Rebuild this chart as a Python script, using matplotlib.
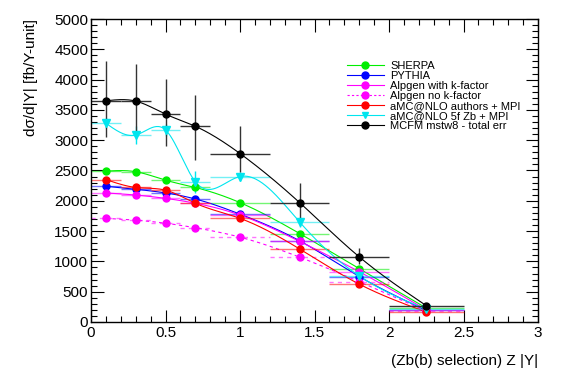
import matplotlib
matplotlib.use("Agg")
import matplotlib.pyplot as plt
import numpy as np
from matplotlib.ticker import MultipleLocator
from matplotlib.lines import Line2D

plt.rcParams['font.family'] = ['Liberation Sans', 'DejaVu Sans']

# bins in |Y|
x = [0.1, 0.3, 0.5, 0.7, 1.0, 1.4, 1.8, 2.25]
xlo = [0.1, 0.1, 0.1, 0.1, 0.2, 0.2, 0.2, 0.25]

sherpa = [2490, 2480, 2340, 2220, 1970, 1460, 880, 230]
pythia = [2240, 2190, 2130, 2030, 1780, 1340, 750, 190]
alpgen_k = [2130, 2095, 2040, 1960, 1765, 1330, 830, 200]
alpgen_nok = [1710, 1680, 1630, 1555, 1400, 1070, 665, 180]
amcnlo = [2350, 2220, 2175, 1960, 1710, 1205, 625, 165]
amc5f = [3280, 3085, 3170, 2315, 2400, 1650, 760, 210]
amc5f_err = [80, 150, 100, 180, 80, 80, 70, 40]
mcfm = [3650, 3645, 3430, 3230, 2780, 1970, 1075, 270]
mcfm_lo = [590, 600, 530, 550, 310, 310, 120, 30]
mcfm_hi = [650, 610, 580, 520, 460, 320, 150, 30]

labels = ["SHERPA", "PYTHIA", "Alpgen with k-factor", "Alpgen no k-factor",
          "aMC@NLO authors + MPI", "aMC@NLO 5f Zb + MPI", "MCFM mstw8 - total err"]


def spline(xs, ys, n=300):
    # natural cubic spline, like ROOT's "C" option
    xs = np.asarray(xs, float)
    ys = np.asarray(ys, float)
    k = len(xs)
    h = np.diff(xs)
    A = np.zeros((k, k))
    b = np.zeros(k)
    A[0, 0] = A[-1, -1] = 1
    for i in range(1, k - 1):
        A[i, i - 1] = h[i - 1]
        A[i, i] = 2 * (h[i - 1] + h[i])
        A[i, i + 1] = h[i]
        b[i] = 3 * ((ys[i + 1] - ys[i]) / h[i] - (ys[i] - ys[i - 1]) / h[i - 1])
    c = np.linalg.solve(A, b)
    xx = np.linspace(xs[0], xs[-1], n)
    idx = np.clip(np.searchsorted(xs, xx) - 1, 0, k - 2)
    dx = xx - xs[idx]
    bb = (ys[1:] - ys[:-1]) / h - h * (2 * c[:-1] + c[1:]) / 3
    dd = (c[1:] - c[:-1]) / (3 * h)
    yy = ys[idx] + bb[idx] * dx + c[idx] * dx ** 2 + dd[idx] * dx ** 3
    return xx, yy


fig = plt.figure(figsize=(5.67, 3.84), dpi=100)
ax = fig.add_axes([0.1605, 0.1615, 0.7884, 0.789])

series = [
    (sherpa, None, "#00ee00", "o", "-"),
    (pythia, None, "#0000ff", "o", "-"),
    (alpgen_k, None, "#ff00ff", "o", "-"),
    (alpgen_nok, None, "#ff00ff", "o", "--"),
    (amcnlo, None, "#ff0000", "o", "-"),
    (amc5f, amc5f_err, "#00e5ee", "v", "-"),
    (mcfm, [mcfm_lo, mcfm_hi], "black", "o", "-"),
]

handles = []
for (ys, err, col, mk, ls), lab in zip(series, labels):
    xx, yy = spline(x, ys)
    ax.plot(xx, yy, color=col, lw=0.8, ls=ls, dashes=(3, 3) if ls == "--" else (None, None))
    hcol = "#333333" if col == "black" else col
    halpha = 1.0 if col == "black" else 0.55
    eb = ax.errorbar(x, ys, xerr=xlo, fmt="none", ecolor=hcol, elinewidth=1.0, alpha=halpha)
    if ls == "--":
        for l in eb.lines[2]:
            l.set_linestyle((0, (3, 3)))
    if err is not None:
        ax.errorbar(x, ys, yerr=err, fmt="none", ecolor=hcol, elinewidth=1.0)
    ax.plot(x, ys, ls="none", marker=mk, color=col, ms=5 if mk == "o" else 5.5, zorder=5)
    handles.append(Line2D([], [], color=col, lw=0.8, ls=ls, marker=mk, ms=5,
                          dashes=(2, 2) if ls == "--" else (None, None), alpha=1.0))

ax.legend(handles, labels, loc="upper left", bbox_to_anchor=(0.573, 0.862), frameon=False,
          fontsize=8, handlelength=3.3, handletextpad=0.6, labelspacing=0.0,
          borderaxespad=0, borderpad=0)

ax.set_xlim(0, 3)
ax.set_ylim(0, 5000)
ax.xaxis.set_major_locator(MultipleLocator(0.5))
ax.xaxis.set_minor_locator(MultipleLocator(0.1))
ax.yaxis.set_major_locator(MultipleLocator(500))
ax.yaxis.set_minor_locator(MultipleLocator(100))
ax.tick_params(which="both", direction="in", top=True, right=True, labelsize=11, width=0.8)
ax.tick_params(which="major", length=9)
ax.tick_params(which="minor", length=4)
ax.tick_params(axis="x", pad=3)
ax.tick_params(axis="y", pad=2)
for s in ax.spines.values():
    s.set_linewidth(1.0)
ax.xaxis.set_major_formatter(plt.FuncFormatter(lambda v, p: "%g" % v))

ax.set_xlabel("(Zb(b) selection) Z |Y|", fontsize=11, loc="right", labelpad=10)
ax.set_ylabel("dσ/d|Y| [fb/Y-unit]", fontsize=11, loc="top", labelpad=12)

fig.savefig("out.png", dpi=100)
